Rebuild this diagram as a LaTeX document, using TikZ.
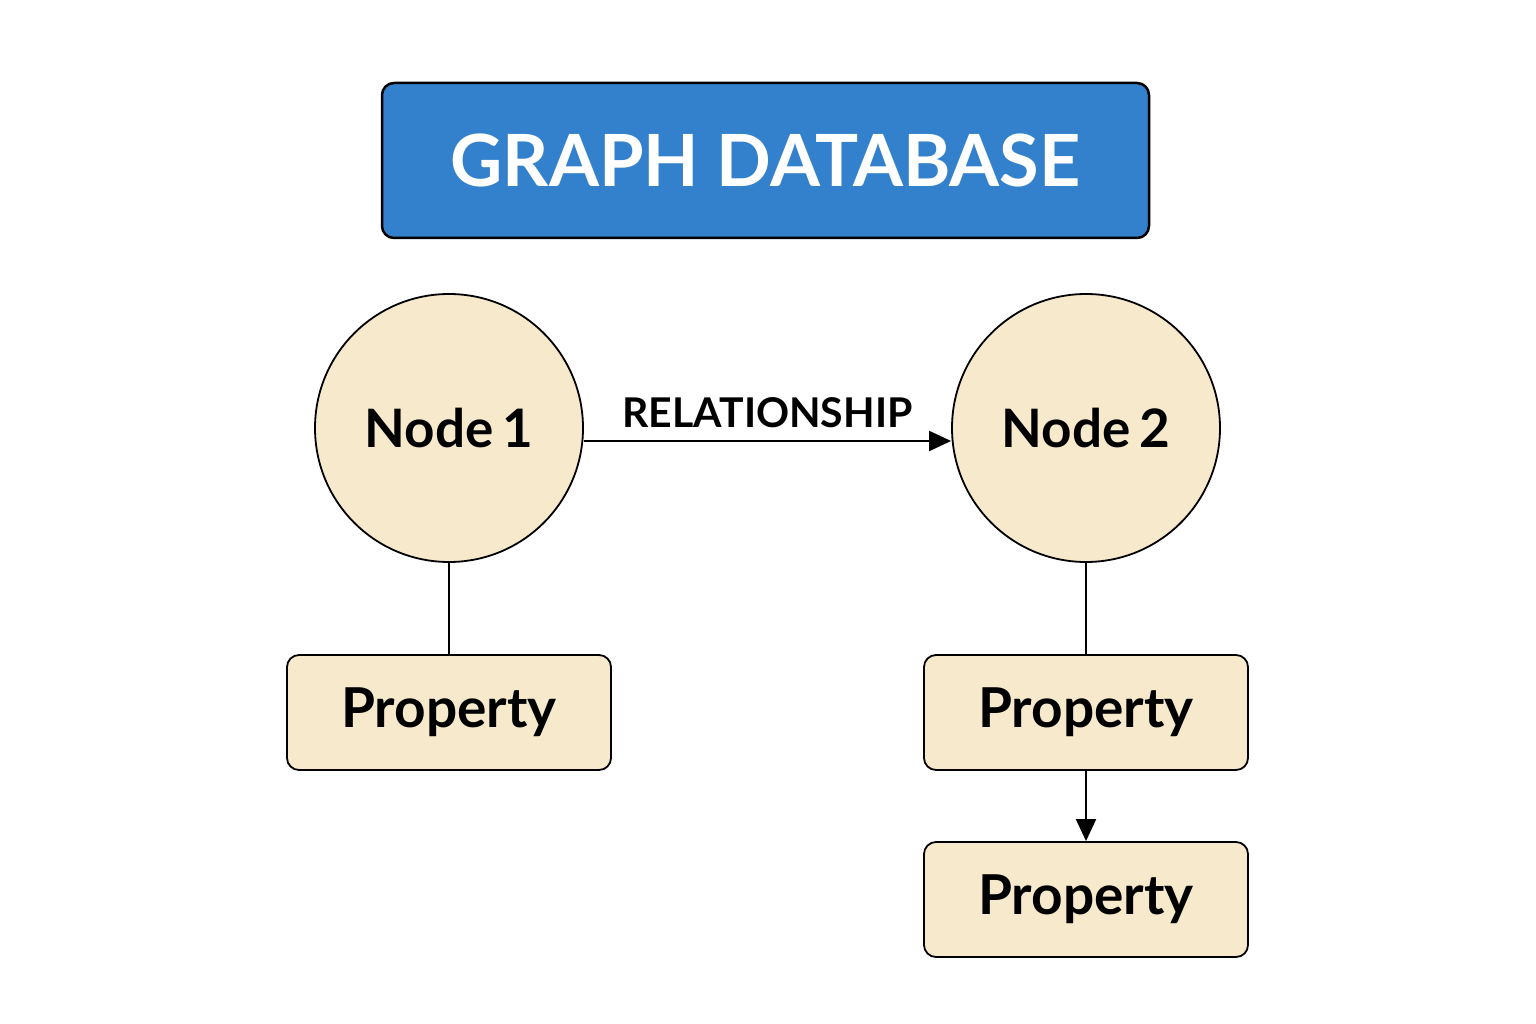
\documentclass[tikz,border=0pt]{standalone}
\usepackage{fontspec}
\setmainfont{Lato}
\usetikzlibrary{arrows.meta}
\definecolor{titleblue}{HTML}{3381CC}
\definecolor{cream}{HTML}{F7EACC}
\tikzset{
  titlebox/.style={draw=black, line width=2.5pt, fill=titleblue, rounded corners=12pt,
    minimum width=767pt, minimum height=155pt, text=white,
    font=\fontsize{72}{76}\selectfont\bfseries},
  entity/.style={circle, draw=black, line width=1.8pt, fill=cream, minimum size=268pt,
    inner sep=0pt, font=\fontsize{53}{57}\selectfont\bfseries},
  propbox/.style={draw=black, line width=1.8pt, fill=cream, rounded corners=12pt,
    minimum width=324pt, minimum height=115pt, inner sep=0pt,
    font=\fontsize{55}{59}\selectfont\bfseries},
  rel/.style={font=\fontsize{41}{44}\selectfont\bfseries},
  conn/.style={line width=2pt, draw=black},
  arr/.style={conn, -{Triangle[length=22pt, width=20pt]}}
}
\begin{document}
\begin{tikzpicture}[x=1pt, y=-1pt]
\useasboundingbox (0,0) rectangle (1536,1024);
\node[titlebox] (title) at (765.5,160.5) {GRAPH DATABASE};
\node[entity] (n1) at (449,428) {Node\,1};
\node[entity] (n2) at (1086,428) {Node\,2};
\node[propbox] (p1) at (449,712.5) {Property};
\node[propbox] (p2) at (1086,712.5) {Property};
\node[propbox] (p3) at (1086,899.5) {Property};
\path (n1.east) ++(0,13) coordinate (a1);
\path (n2.west) ++(0,13) coordinate (a2);
\draw[arr] (a1) -- node[rel, above=9pt, pos=0.5] (rl) {RELATIONSHIP} (a2);
\draw[conn] (n1.south) -- (p1.north);
\draw[conn] (n2.south) -- (p2.north);
\draw[arr] (p2.south) -- (p3.north);
\end{tikzpicture}
\end{document}
